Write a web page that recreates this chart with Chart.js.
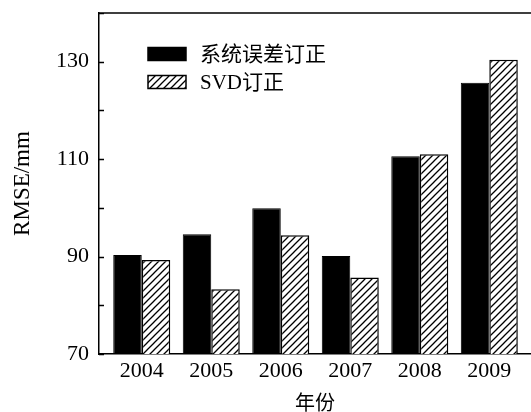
<!DOCTYPE html>
<html>
<head>
<meta charset="utf-8">
<script src="https://cdn.jsdelivr.net/npm/chart.js@4"></script>
<style>
  html, body { margin: 0; padding: 0; background: #fff; }
  #wrap { width: 531px; height: 412px; }
</style>
</head>
<body>
<div id="wrap"><canvas id="chart" width="531" height="412"></canvas></div>
<script>
// Years on the x axis
var years = [2004, 2005, 2006, 2007, 2008, 2009];
// RMSE (mm) after systematic error correction
var systematicRmse = [90.3, 94.6, 99.9, 90.1, 110.6, 125.7];
// RMSE (mm) after SVD correction
var svdRmse = [89.3, 83.3, 94.4, 85.7, 111.0, 130.4];
// Labelled y ticks
var yLabels = [70, 90, 110, 130];

var serif = '"Liberation Serif", "Noto Sans CJK SC", serif';
var cjk = '"Liberation Serif", "Noto Sans CJK SC", sans-serif';

// Diagonal hatch fill for the SVD bars.
function makeHatch() {
  var c = document.createElement('canvas');
  c.width = 7;
  c.height = 7;
  var g = c.getContext('2d');
  g.fillStyle = '#fff';
  g.fillRect(0, 0, 7, 7);
  g.strokeStyle = '#000';
  g.lineWidth = 1.3;
  g.beginPath();
  g.moveTo(-1, 8); g.lineTo(8, -1);
  g.moveTo(-1, 1); g.lineTo(1, -1);
  g.moveTo(6, 8); g.lineTo(8, 6);
  g.stroke();
  return g.createPattern(c, 'repeat');
}
var hatch = makeHatch();

function toPoints(values) {
  return values.map(function (v, i) {
    return { x: years[i], y: v };
  });
}

// Inward ticks, top frame line and the legend inside the plot.
var decorations = {
  id: 'decorations',
  afterDraw: function (chart) {
    var ctx = chart.ctx;
    var area = chart.chartArea;
    var y = chart.scales.y;
    ctx.save();
    ctx.strokeStyle = '#000';
    ctx.lineWidth = 1.5;
    ctx.beginPath();
    ctx.moveTo(area.left, area.top);
    ctx.lineTo(area.right, area.top);
    for (var v = 70; v <= 140; v += 10) {
      var py = Math.round(y.getPixelForValue(v)) + 0.5;
      ctx.moveTo(area.left, py);
      ctx.lineTo(area.left + 5, py);
    }
    ctx.stroke();

    // Legend
    var ds = chart.data.datasets;
    var bx = 148, bw = 38, bh = 13;
    var rows = [54, 82];
    ctx.font = '21px ' + cjk;
    ctx.textBaseline = 'middle';
    ctx.textAlign = 'left';
    for (var i = 0; i < ds.length; i++) {
      var cy = rows[i];
      ctx.fillStyle = ds[i].backgroundColor;
      ctx.fillRect(bx, cy - bh / 2, bw, bh);
      ctx.lineWidth = 1.5;
      ctx.strokeStyle = '#000';
      ctx.strokeRect(bx, cy - bh / 2, bw, bh);
      ctx.fillStyle = '#000';
      ctx.fillText(ds[i].label, 200, cy + 1);
    }
    ctx.restore();
  }
};

new Chart(document.getElementById('chart'), {
  type: 'bar',
  data: {
    datasets: [
      {
        label: '系统误差订正',
        data: toPoints(systematicRmse),
        backgroundColor: '#000',
        borderColor: '#000',
        borderWidth: 1,
      },
      {
        label: 'SVD订正',
        data: toPoints(svdRmse),
        backgroundColor: hatch,
        borderColor: '#000',
        borderWidth: 1.5,
      },
    ],
  },
  options: {
    responsive: false,
    animation: false,
    categoryPercentage: 0.82,
    barPercentage: 1.0,
    layout: { padding: { top: 13, right: 0, left: 0, bottom: 0 } },
    plugins: {
      legend: { display: false },
      tooltip: { enabled: false },
    },
    scales: {
      x: {
        type: 'linear',
        offset: false,
        min: 2003.385,
        max: 2009.6,
        afterBuildTicks: function (scale) {
          scale.ticks = years.map(function (v) { return { value: v }; });
        },
        afterFit: function (scale) {
          scale.height = 58;
          scale.paddingLeft = 0;
          scale.paddingRight = 0;
        },
        grid: { display: false, drawTicks: false },
        border: { color: '#000', width: 1.5 },
        ticks: {
          color: '#000',
          padding: 4,
          maxRotation: 0,
          autoSkip: false,
          font: { family: serif, size: 22 },
          callback: function (v) { return String(v); },
        },
        title: {
          display: true,
          text: '年份',
          color: '#000',
          padding: { top: 8, bottom: -5 },
          font: { family: cjk, size: 20 },
        },
      },
      y: {
        min: 70,
        max: 140,
        afterBuildTicks: function (scale) {
          scale.ticks = yLabels.map(function (v) { return { value: v }; });
        },
        afterFit: function (scale) {
          scale.width = 99;
          scale.paddingTop = 0;
          scale.paddingBottom = 0;
        },
        grid: { display: false, drawTicks: false },
        border: { color: '#000', width: 1.5 },
        ticks: {
          color: '#000',
          padding: 10,
          font: { family: serif, size: 22 },
        },
        title: {
          display: true,
          text: 'RMSE/mm',
          color: '#000',
          padding: { top: 9, bottom: 0 },
          font: { family: serif, size: 23 },
        },
      },
    },
  },
  plugins: [decorations],
});
</script>
</body>
</html>
